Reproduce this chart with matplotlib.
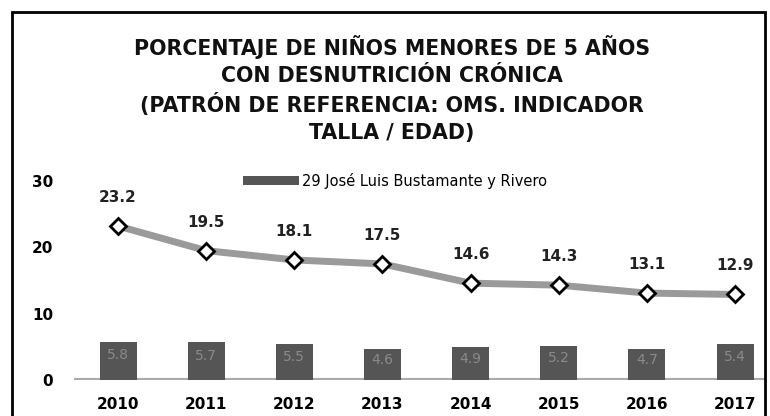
import matplotlib
matplotlib.use("Agg")
import matplotlib.pyplot as plt
import numpy as np
from matplotlib.patches import Rectangle

years = ['2010', '2011', '2012', '2013', '2014', '2015', '2016', '2017']
linea = [23.2, 19.5, 18.1, 17.5, 14.6, 14.3, 13.1, 12.9]
barras = [5.8, 5.7, 5.5, 4.6, 4.9, 5.2, 4.7, 5.4]
serie = '29 José Luis Bustamante y Rivero'
titulo = ('PORCENTAJE DE NIÑOS MENORES DE 5 AÑOS\nCON DESNUTRICIÓN CRÓNICA\n'
          '(PATRÓN DE REFERENCIA: OMS. INDICADOR\nTALLA / EDAD)')

W, H = 770, 416
fig = plt.figure(figsize=(W / 100, H / 100), dpi=100)
ax = fig.add_axes([74 / W, 1 - 380 / H, (765 - 74) / W, (380 - 181) / H])

x = np.arange(len(years))
bars = ax.bar(x, barras, width=0.42, color='#555555', label=serie, zorder=2)
for xi, v in zip(x, barras):
    ax.text(xi, v * 0.64, f'{v}', ha='center', va='center', fontsize=10,
            color='#8a8a8a', zorder=3)

ax.plot(x, linea, color='#9a9a9a', lw=5, zorder=4)
ax.plot(x, linea, ls='none', marker='D', ms=8, mfc='white', mec='black',
        mew=2, zorder=5)
for xi, v in zip(x, linea):
    ax.text(xi, v + 4.3, f'{v}', ha='center', va='center', fontsize=11,
            fontweight='bold', color='#222222')

ax.axhline(0, color='#aaaaaa', lw=3, zorder=1)
ax.set_xlim(-0.5, 7.34)
ax.set_ylim(0, 30)
ax.set_yticks([0, 10, 20, 30])
ax.set_xticks(x)
ax.set_xticklabels(years)
ax.tick_params(length=0, labelsize=11)
ax.tick_params(axis='x', pad=12)
ax.tick_params(axis='y', pad=15)
for lab in ax.get_xticklabels() + ax.get_yticklabels():
    lab.set_fontweight('bold')
for s in ax.spines.values():
    s.set_visible(False)

ax.legend(handles=[bars], loc='center', bbox_to_anchor=(395 / W, 1 - 181 / H),
          bbox_transform=fig.transFigure, frameon=False, fontsize=10.5,
          handlelength=3.8, handleheight=0.55, handletextpad=0.2)

fig.text(392 / W, 1 - 89 / H, titulo, ha='center', va='center', fontsize=14.8,
         fontweight='bold', linespacing=1.4, color='#111111')

# marco exterior (el borde inferior queda fuera de la imagen, como en el original)
fig.patches.append(Rectangle((12 / W, -0.05), (765 - 12) / W, 1 - 12 / H + 0.05,
                             transform=fig.transFigure, fill=False,
                             edgecolor='black', lw=2))

fig.savefig('out.png', dpi=100)
